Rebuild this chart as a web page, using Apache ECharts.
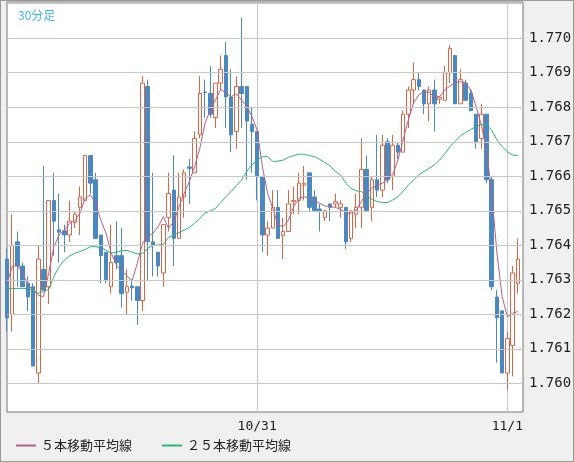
<!DOCTYPE html>
<html>
<head>
<meta charset="utf-8">
<script src="https://cdn.jsdelivr.net/npm/echarts@6/dist/echarts.min.js"></script>
<style>
  html, body { margin: 0; padding: 0; background: #f0f0f0; }
  #chart { width: 574px; height: 462px; box-sizing: border-box; border: 1px solid #999; }
</style>
</head>
<body>
<div id="chart"></div>
<script>
// 30-minute candles, 48 per day; index 48 = 10/31 00:00, index 96 = 11/1 00:00
var opens  = [1.7636,1.7620,1.7641,1.7634,1.7629,1.7628,1.7603,1.7633,1.7628,1.7653,
              1.76445,1.76442,1.7643,1.76466,1.7651,1.7653,1.7666,1.7659,1.7643,1.7638,
              1.7628,1.7637,1.7637,1.76264,1.76282,1.7628,1.7624,1.7686,1.7641,1.7638,
              1.7632,1.7648,1.7656,1.7642,1.7654,1.76627,1.7661,1.7672,1.76844,1.7684,
              1.7677,1.7687,1.7695,1.7683,1.7673,1.7686,1.7686,1.7675,1.7673,1.7660,
              1.7643,1.7645,1.7651,1.76428,1.7644,1.76526,1.7653,1.76575,1.7661,1.7654,
              1.76505,1.7648,1.7652,1.7652,1.7651,1.7651,1.7642,1.7649,1.7651,1.7662,
              1.7651,1.7659,1.7656,1.7670,1.7660,1.7669,1.7667,1.7678,1.7685,1.7688,
              1.7685,1.7681,1.7685,1.76823,1.7682,1.7690,1.7695,1.7681,1.7687,1.7684,
              1.7678,1.7671,1.7678,1.7659,1.7625,1.7621,1.7603,1.7611,1.7629];
var closes = [1.7619,1.7640,1.7634,1.7628,1.7625,1.7605,1.7636,1.7627,1.7653,1.7647,
              1.76438,1.7643,1.7647,1.7649,1.7654,1.7666,1.7658,1.7642,1.7637,1.7630,
              1.7635,1.7635,1.7626,1.7628,1.76277,1.7624,1.7687,1.7641,1.7640,1.7634,
              1.7646,1.7655,1.7642,1.7654,1.7661,1.76623,1.7671,1.7684,1.76843,1.7678,
              1.7687,1.7691,1.7683,1.7672,1.7686,1.7684,1.7676,1.7673,1.7660,1.7643,
              1.7645,1.7651,1.7642,1.7644,1.7652,1.7653,1.7658,1.7658,1.7651,1.7650,
              1.7650,1.7650,1.7651,1.76527,1.7652,1.7641,1.7650,1.7651,1.7662,1.7650,
              1.7659,1.7656,1.7669,1.7659,1.7669,1.7667,1.7678,1.7685,1.7688,1.7686,
              1.7681,1.7685,1.7681,1.76829,1.7690,1.7697,1.7681,1.7688,1.7682,1.7679,
              1.7670,1.7678,1.7659,1.7628,1.7619,1.7603,1.7613,1.7632,1.7636];
var lows   = [1.7615,1.7615,1.7628,1.7628,1.7621,1.7605,1.7600,1.7627,1.7623,1.7637,
              1.7635,1.7638,1.7641,1.7645,1.7643,1.7653,1.7655,1.7642,1.7629,1.7629,
              1.7626,1.7633,1.7622,1.7620,1.7624,1.7617,1.7621,1.7630,1.7631,1.7631,
              1.7628,1.7644,1.7634,1.7642,1.7648,1.7652,1.7661,1.7671,1.7677,1.7677,
              1.7674,1.7685,1.7674,1.7667,1.7668,1.7674,1.7659,1.7661,1.7653,1.7638,
              1.7637,1.7645,1.7642,1.7636,1.7644,1.7649,1.7649,1.7653,1.7650,1.7650,
              1.7644,1.7647,1.7647,1.7651,1.7648,1.7639,1.7641,1.7645,1.7645,1.7650,
              1.7647,1.7654,1.7654,1.7658,1.7656,1.7665,1.7667,1.7674,1.7681,1.7685,
              1.7678,1.7676,1.7673,1.7681,1.7682,1.7687,1.7681,1.7681,1.7682,1.7679,
              1.7668,1.7668,1.7658,1.7627,1.7606,1.7603,1.7598,1.7602,1.7626];
var highs  = [1.7639,1.7649,1.7644,1.7635,1.7631,1.7629,1.7640,1.7663,1.7653,1.7661,
              1.7655,1.7646,1.7653,1.7650,1.7657,1.7666,1.7666,1.7661,1.7643,1.7638,
              1.7646,1.7647,1.7645,1.7633,1.7630,1.7628,1.7689,1.7688,1.7661,1.7638,
              1.7646,1.7661,1.7666,1.7661,1.7662,1.7665,1.7673,1.7689,1.7688,1.7692,
              1.7687,1.7695,1.7699,1.7691,1.7689,1.7706,1.7686,1.7680,1.7673,1.7660,
              1.7647,1.7656,1.7656,1.7648,1.7656,1.7657,1.7661,1.7663,1.7661,1.7656,
              1.7652,1.7650,1.7652,1.7655,1.7653,1.7651,1.7650,1.7655,1.7671,1.7666,
              1.7660,1.7672,1.7672,1.7671,1.7672,1.7670,1.7679,1.7686,1.7693,1.7690,
              1.7685,1.7686,1.7688,1.7683,1.7692,1.7698,1.7695,1.7691,1.7688,1.7685,
              1.7678,1.7681,1.7678,1.7660,1.7627,1.7621,1.7615,1.7634,1.7642];
var ma5    = [1.76292,1.76338,1.76343,1.76319,1.76285,1.76271,1.76256,1.76251,1.76319,1.76396,
              1.76430,1.76444,1.76464,1.76471,1.76493,1.76536,1.76546,1.76522,1.76473,1.76435,
              1.76377,1.76343,1.76327,1.76311,1.76297,1.76348,1.76406,1.76425,1.76435,1.76454,
              1.76483,1.76449,1.76469,1.76512,1.76551,1.76585,1.76628,1.76681,1.76754,1.76792,
              1.76821,1.76852,1.76841,1.76831,1.76839,1.76821,1.76802,1.76773,1.76734,1.76628,
              1.76551,1.76507,1.76459,1.76454,1.76473,1.76512,1.76536,1.76541,1.76536,1.76529,
              1.76522,1.76514,1.76512,1.76510,1.76504,1.76495,1.76493,1.76502,1.76527,1.76551,
              1.76565,1.76575,1.76580,1.76589,1.76604,1.76647,1.76705,1.76763,1.76812,1.76836,
              1.76845,1.76843,1.76829,1.76831,1.76850,1.76862,1.76872,1.76874,1.76870,1.76850,
              1.76802,1.76749,1.76676,1.76551,1.76377,1.76251,1.76193,1.76203,1.76208];
var ma25   = [1.76275,1.76275,1.76275,1.76275,1.76275,1.76270,1.76261,1.76266,1.76272,1.76309,
              1.76338,1.76357,1.76369,1.76377,1.76382,1.76388,1.76396,1.76396,1.76393,1.76386,
              1.76377,1.76380,1.76384,1.76385,1.76380,1.76375,1.76377,1.76391,1.76399,1.76401,
              1.76403,1.76423,1.76430,1.76437,1.76444,1.76452,1.76464,1.76478,1.76493,1.76500,
              1.76507,1.76524,1.76541,1.76556,1.76573,1.76589,1.76614,1.76633,1.76647,1.76657,
              1.76657,1.76643,1.76644,1.76647,1.76655,1.76660,1.76664,1.76664,1.76660,1.76657,
              1.76649,1.76640,1.76630,1.76614,1.76604,1.76580,1.76565,1.76558,1.76556,1.76541,
              1.76534,1.76527,1.76524,1.76524,1.76531,1.76541,1.76557,1.76575,1.76589,1.76604,
              1.76614,1.76623,1.76633,1.76647,1.76665,1.76686,1.76702,1.76717,1.76727,1.76736,
              1.76744,1.76751,1.76749,1.76734,1.76705,1.76686,1.76671,1.76662,1.76660];
var priceTicks = [1.760,1.761,1.762,1.763,1.764,1.765,1.766,1.767,1.768,1.769,1.770,1.771];
var dayLabels = { 48: '10/31', 96: '11/1' };

var cats = [];
var candles = [];
for (var i = 0; i < opens.length; i++) {
    cats.push(String(i));
    candles.push([opens[i], closes[i], lows[i], highs[i]]);
}
cats.push(String(opens.length)); // empty slot at the right edge

// horizontal price grid, drawn as markLines under the candles; 1.771 has no label (clipped in original)
var gridLines = priceTicks.map(function (v) {
    var txt = v > 1.7705 ? '' : v.toFixed(3);
    return [{ xAxis: 0, yAxis: v, name: txt }, { xAxis: opens.length, yAxis: v }];
});

var chart = echarts.init(document.getElementById('chart'));
var font = '"DejaVu Sans Mono", monospace';
chart.setOption({
    animation: false,
    backgroundColor: '#f0f0f0',
    title: {
        text: '30分足', left: 12, top: 3,
        textStyle: { color: '#3cb4e6', fontSize: 12, fontWeight: 'normal', fontFamily: '"Noto Sans CJK JP"' }
    },
    grid: { left: 6, right: 50, top: 1, bottom: 49, show: true,
            backgroundColor: '#fff', borderColor: '#777', borderWidth: 1 },
    legend: {
        bottom: 4, left: 10, itemGap: 30, itemWidth: 20, itemHeight: 2,
        data: [
            { name: '５本移動平均線', icon: 'rect' },
            { name: '２５本移動平均線', icon: 'rect' }
        ],
        textStyle: { color: '#222', fontSize: 13, fontFamily: '"Noto Sans CJK JP"' }
    },
    xAxis: {
        type: 'category', data: cats, boundaryGap: false,
        axisLine: { show: false }, axisTick: { show: false },
        axisLabel: { interval: function (idx) { return dayLabels[idx] !== undefined; },
                     formatter: function (v, idx) { return dayLabels[idx] || ''; },
                     color: '#222', fontSize: 13, fontFamily: font, margin: 8 },
        splitLine: { show: true, interval: function (idx) { return idx === 48 || idx === 96; },
                     lineStyle: { color: '#c8c8c8', width: 1 } }
    },
    yAxis: {
        type: 'value', min: 1.75917, max: 1.77105, position: 'right',
        axisLine: { show: false }, axisTick: { show: false },
        axisLabel: { show: false }, splitLine: { show: false }
    },
    series: [
        {
            name: 'grid', type: 'line', data: [], z: 1, silent: true,
            markLine: {
                silent: true, symbol: ['none', 'none'], animation: false,
                lineStyle: { color: '#c8c8c8', type: 'solid', width: 1 },
                label: { position: 'end', distance: 6, color: '#222', fontSize: 14, fontWeight: 'normal', fontFamily: font,
                         formatter: function (p) { return p.name; } },
                data: gridLines
            }
        },
        {
            type: 'candlestick', data: candles, barWidth: 4, z: 3,
            itemStyle: { color: '#ffffff', borderColor: '#dd6440', color0: '#4a88c0', borderColor0: '#4a88c0', borderWidth: 1 }
        },
        { name: '５本移動平均線', type: 'line', data: ma5, symbol: 'none', z: 4,
          lineStyle: { color: '#b0608a', width: 1 }, itemStyle: { color: '#b0608a' } },
        { name: '２５本移動平均線', type: 'line', data: ma25, symbol: 'none', z: 4,
          lineStyle: { color: '#2db27a', width: 1 }, itemStyle: { color: '#2db27a' } }
    ]
});
</script>
</body>
</html>
